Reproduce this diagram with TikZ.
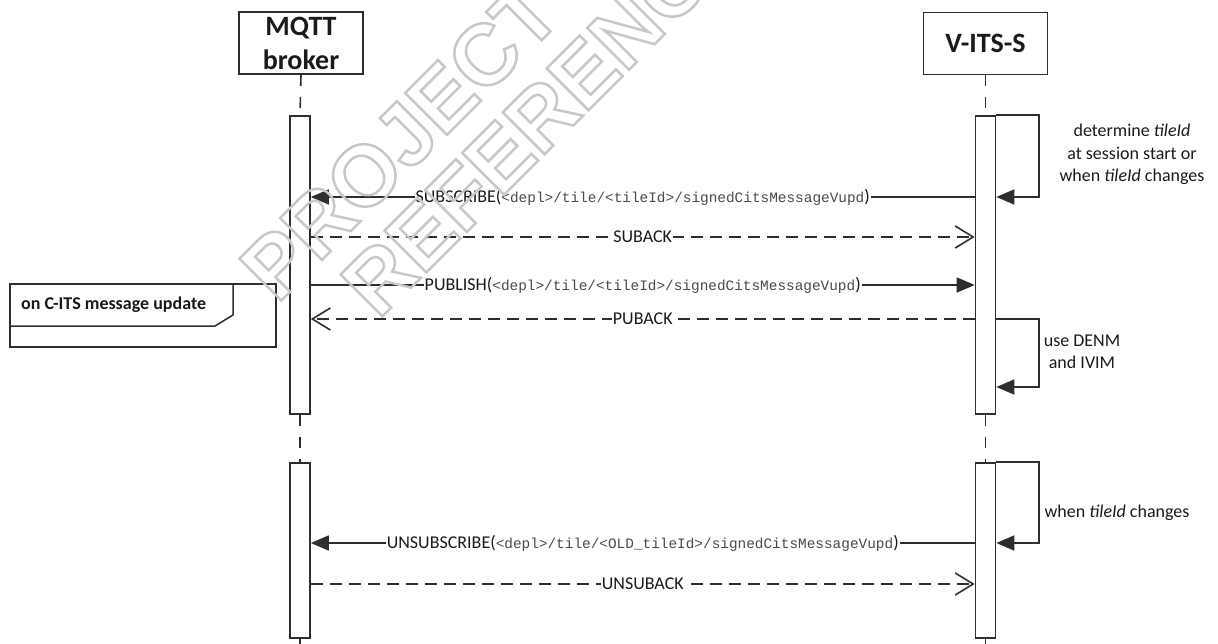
\documentclass[tikz,border=0pt]{standalone}
\usepackage{fontspec}
\setmainfont{Carlito}
\newfontfamily\monof{Liberation Mono}
\newfontfamily\wmfont{Liberation Sans}
\usetikzlibrary{arrows.meta}
\definecolor{ln}{HTML}{2E2E2E}
\definecolor{tx}{HTML}{1A1A1A}
\definecolor{monoc}{HTML}{4A4A4A}
\definecolor{wm}{HTML}{C8C8C8}
\newcommand{\mt}[1]{{\monof\fontsize{14.4}{16}\selectfont\color{monoc}#1}}
\begin{document}
\begin{tikzpicture}[x=1pt,y=-1pt,
 every node/.style={text=tx},
 head/.style={draw=ln, line width=1.8, minimum width=124, minimum height=62, inner sep=0,
   font=\fontsize{28}{34}\selectfont\bfseries, align=center},
 bar/.style={draw=ln, fill=white, line width=1.6, minimum width=20, inner sep=0},
 life/.style={draw=ln, line width=1.6, dash pattern=on 11pt off 11pt},
 sync/.style={draw=ln, line width=1.6, -{Triangle[length=18,width=15]}},
 reply/.style={draw=ln, line width=1.6, dash pattern=on 12pt off 7pt,
   -{Straight Barb[length=18,width=22,line width=1.6]}},
 lbl/.style={fill=white, inner xsep=1, inner ysep=1, font=\fontsize{18}{22}\selectfont},
 note/.style={font=\fontsize{18}{22.5}\selectfont, align=center},
 wmark/.style={rotate=45, font=\wmfont\bfseries\fontsize{86}{86}\selectfont, text=wm},
]
\useasboundingbox (0,0) rectangle (1218,644);

% heads
\node[head] (mqtt) at (301,43) {MQTT\\broker};
\node[head] (vits) at (985.5,43.5) {V-ITS-S};

% activation bars
\node[bar, minimum height=298, anchor=north] (mb1) at (300,115) {};
\node[bar, minimum height=175, anchor=north] (mb2) at (300,462) {};
\node[bar, minimum height=298, anchor=north] (vb1) at (985.5,115) {};
\node[bar, minimum height=175, anchor=north] (vb2) at (985.5,462) {};

% lifelines
\coordinate (mend) at (300,650);
\coordinate (vend) at (985.5,650);
\draw[life] (mqtt.south) -- (mb1.north);
\draw[life] (mb1.south) -- (mb2.north);
\draw[life] (mb2.south) -- (mend);
\draw[life] (vits.south) -- (vb1.north);
\draw[life] (vb1.south) -- (vb2.north);
\draw[life] (vb2.south) -- (vend);

% message heights
\coordinate (y1) at (0,197);
\coordinate (y2) at (0,237);
\coordinate (y3) at (0,285);
\coordinate (y4) at (0,319);
\coordinate (y6) at (0,543);
\coordinate (y7) at (0,584);

% messages
\draw[sync] (vb1.west |- y1) -- node[lbl] (m1) {SUBSCRIBE(\mt{<depl>/tile/<tileId>/signedCitsMessageVupd})} (mb1.east |- y1);
\draw[reply] (mb1.east |- y2) -- node[lbl] (m2) {SUBACK} (vb1.west |- y2);
\draw[sync] (mb1.east |- y3) -- node[lbl] (m3) {PUBLISH(\mt{<depl>/tile/<tileId>/signedCitsMessageVupd})} (vb1.west |- y3);
\draw[reply] (vb1.west |- y4) -- node[lbl] (m4) {PUBACK} (mb1.east |- y4);
\draw[sync] (vb2.west |- y6) -- node[lbl] (m6) {UNSUBSCRIBE(\mt{<depl>/tile/<OLD\_tileId>/signedCitsMessageVupd})} (mb2.east |- y6);
\draw[reply] (mb2.east |- y7) -- node[lbl] (m7) {UNSUBACK} (vb2.west |- y7);

% self messages
\coordinate (s1a) at (1039,115); \coordinate (s1b) at (1039,197);
\coordinate (s2a) at (1039,319); \coordinate (s2b) at (1039,387);
\coordinate (s3a) at (1039,462); \coordinate (s3b) at (1039,543);
\draw[sync] (vb1.north east) -- (s1a) -- (s1b) -- (vb1.east |- s1b);
\draw[sync] (vb1.east |- s2a) -- (s2a) -- (s2b) -- (vb1.east |- s2b);
\draw[sync] (vb2.north east) -- (s3a) -- (s3b) -- (vb2.east |- s3b);

\node[note] (n1) at (1132,154.5) {determine \textit{tileId}\\at session start or\\when \textit{tileId} changes};
\node[note] (n2) at (1082,352) {use DENM\\and IVIM};
\node[note, anchor=west] (n3) at (1041,513) {when \textit{tileId} changes};

% frame
\draw[draw=ln, line width=1.5] (10,284) rectangle (276,347);
\draw[draw=ln, line width=1.5] (10,326) -- (215,326) -- (233,315) -- (233,284);
\node[anchor=base west, inner sep=0, font=\fontsize{18}{22}\selectfont\bfseries] (frm) at (21,309) {on C-ITS message update};

% watermark
\node[wmark] (wm1) at (400,140) {\special{pdf:literal direct 1 Tr 2.5 w}PROJECT\special{pdf:literal direct 0 Tr}};
\node[wmark] (wm2) at (545,112) {\special{pdf:literal direct 1 Tr 2.5 w}REFERENCE\special{pdf:literal direct 0 Tr}};
\end{tikzpicture}
\end{document}
